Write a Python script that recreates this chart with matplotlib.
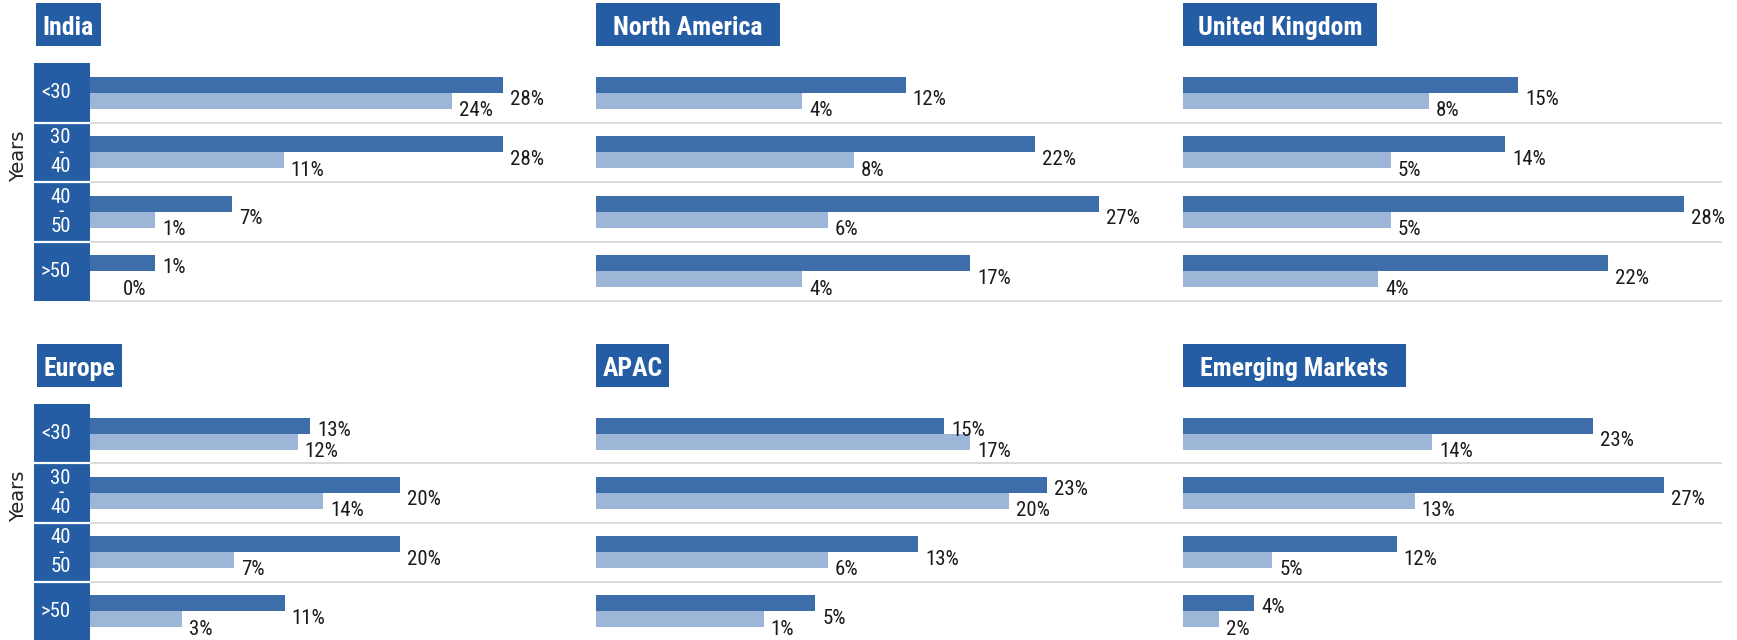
import matplotlib
matplotlib.use("Agg")
import matplotlib.pyplot as plt
from matplotlib.patches import Rectangle
from matplotlib import font_manager

# data (percent of respondents by age group)
regions = ["India", "North America", "United Kingdom", "Europe", "APAC", "Emerging Markets"]
age_groups = ["<30", "30\n-\n40", "40\n-\n50", ">50"]

india_dark = [28, 28, 7, 1]
india_light = [24, 11, 1, 0]
na_dark = [12, 22, 27, 17]
na_light = [4, 8, 6, 4]
uk_dark = [15, 14, 28, 22]
uk_light = [8, 5, 5, 4]
europe_dark = [13, 20, 20, 11]
europe_light = [12, 14, 7, 3]
apac_dark = [15, 23, 13, 5]
apac_light = [17, 20, 6, 1]
em_dark = [23, 27, 12, 4]
em_light = [14, 13, 5, 2]

dark_vals = [india_dark, na_dark, uk_dark, europe_dark, apac_dark, em_dark]
light_vals = [india_light, na_light, uk_light, europe_light, apac_light, em_light]

# layout (pixels of a 1737x640 canvas)
W, H = 1737, 640
col_px = [(90, 596), (596, 1183), (1183, 1721)]
row_px = [(63, 301), (404, 641)]
xlims = [(-4.03, 35.2), (-11.98, 33.5), (-11.29, 30.9),
         (-4.22, 35.3), (-11.98, 33.5), (0, 30.2)]
title_left = [36, 596, 1183, 37, 596, 1183]
title_w = [65, 184, 194, 85, 73, 223]
title_top = [3, 344]

DARK = "#3d6eaa"
LIGHT = "#9db5d6"
NAVY = "#245da3"
GRID = "#dadada"

names = {f.name for f in font_manager.fontManager.ttflist}
if "Roboto Condensed" in names:
    NARROW = dict(family="Roboto Condensed")
elif "Liberation Sans Narrow" in names:
    NARROW = dict(family="Liberation Sans Narrow")
else:
    NARROW = dict(family="DejaVu Sans", stretch="condensed")


def fx(x):
    return x / W


def fy(y):
    return 1 - y / H


fig = plt.figure(figsize=(W / 100, H / 100), dpi=100)

y = list(range(len(age_groups)))
bh = 0.27

for i, name in enumerate(regions):
    r, c = divmod(i, 3)
    x0, x1 = col_px[c]
    top, bot = row_px[r]
    ax = fig.add_axes([fx(x0), fy(bot), fx(x1 - x0), (bot - top) / H])
    xmin, xmax = xlims[i]
    dv, lv = dark_vals[i], light_vals[i]

    dw = [v - xmin if v > 0 else 0 for v in dv]
    lw = [v - xmin if v > 0 else 0 for v in lv]
    ax.barh([k - bh / 2 for k in y], dw, left=xmin, height=bh, color=DARK)
    ax.barh([k + bh / 2 for k in y], lw, left=xmin, height=bh, color=LIGHT)

    for k in y:
        close = lv[k] >= dv[k] - 3
        ax.annotate(f"{dv[k]}%", (dv[k], k + (-0.06 if close else 0.12)),
                    xytext=(7, 0), textcoords="offset pixels",
                    ha="left", va="center", fontsize=15, color="#1a1a1a", **NARROW)
        lx = lv[k] if lv[k] > 0 else xmin / 2
        ax.annotate(f"{lv[k]}%", (lx, k + 0.3),
                    xytext=(7, 0), textcoords="offset pixels",
                    ha="left", va="center", fontsize=15, color="#1a1a1a", **NARROW)

    for b in [0.5, 1.5, 2.5, 3.5]:
        ax.axhline(b, color=GRID, lw=1.4, clip_on=False, zorder=0)

    ax.set_xlim(xmin, xmax)
    ax.set_ylim(len(age_groups) - 0.5, -0.5)
    ax.axis("off")

    # title box
    bx, bw = title_left[i], title_w[i]
    bt = title_top[r]
    fig.add_artist(Rectangle((fx(bx), fy(bt + 43)), fx(bw), 43 / H,
                             transform=fig.transFigure, facecolor=NAVY, edgecolor="none"))
    fig.text(fx(bx + bw / 2), fy(bt + 32), name, ha="center", va="baseline",
             color="white", fontsize=18.5, fontweight="bold", **NARROW)

    # age group column on the left panels
    if c == 0:
        lab = fig.add_axes([fx(34), fy(bot), fx(56), (bot - top) / H])
        lab.set_facecolor(NAVY)
        lab.set_ylim(len(age_groups) - 0.5, -0.5)
        lab.set_xlim(0, 1)
        for b in [0.5, 1.5, 2.5]:
            lab.axhline(b, color="white", lw=1.6)
        for k, g in enumerate(age_groups):
            lab.text(0.66, k, g, ha="right", va="center", multialignment="center",
                     color="white", fontsize=15, linespacing=0.7, **NARROW)
        lab.set_xticks([])
        lab.set_yticks([])
        for s in lab.spines.values():
            s.set_visible(False)
        fig.text(fx(19), fy((top + bot) / 2 - 26), "Years", rotation=90,
                 ha="center", va="center", fontsize=14, color="#222222")

fig.savefig("out.png", dpi=100)
